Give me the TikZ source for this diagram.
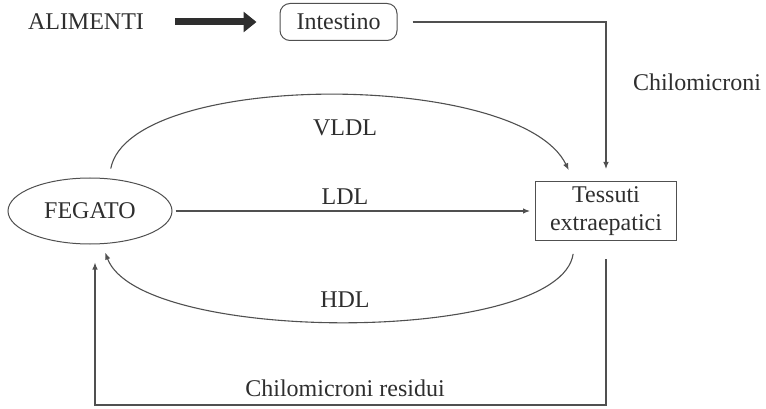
\documentclass[tikz,border=0pt]{standalone}
\usepackage{fontspec}
\setmainfont{Liberation Serif}
\usetikzlibrary{arrows.meta,shapes.geometric}
\definecolor{inchiostro}{HTML}{2E2E2E}
\definecolor{tratto}{HTML}{505050}

\begin{document}
\begin{tikzpicture}[x=1pt,y=-1pt,
  every node/.style={text=inchiostro,font=\fontsize{24}{28}\selectfont},
  freccia/.style={draw=tratto,line width=1.1pt,-{Latex[length=7pt,width=5.5pt]}}]
\useasboundingbox (0,0) rectangle (766,409);
\tikzstyle{every node}+=[inner sep=0pt]
\node (alimenti) at (86,22) {ALIMENTI};
\node [draw=tratto,line width=1pt,rounded corners=10pt,minimum width=117pt,minimum height=37pt] (intestino) at (338.5,22) {Intestino};
\node [draw=tratto,line width=1pt,ellipse,minimum width=164pt,minimum height=66pt] (fegato) at (90,211) {FEGATO};
\node [draw=tratto,line width=1pt,minimum width=141pt,minimum height=59pt,align=center] (tessuti) at (606,211) {Tessuti\\extraepatici};
% freccia grossa verso l'intestino
\draw [draw=inchiostro,line width=7pt,-{Triangle[length=13pt,width=20pt]}] (175,22) -- ([xshift=-23pt]intestino.west);
% chilomicroni
\draw [freccia,shorten <=15pt,shorten >=12pt] (intestino.east) -| (tessuti.north);
\node (chilo) at (697,82) {Chilomicroni};
% VLDL, LDL, HDL
\draw [freccia,shorten <=10pt,shorten >=12pt] (fegato.60) .. controls (130,70) and (520,70) .. ([xshift=-32pt]tessuti.north);
\node (vldl) at (345,128) {VLDL};
\draw [freccia,shorten <=3pt,shorten >=5pt] (fegato.east) -- (tessuti.west);
\node (ldl) at (345,197) {LDL};
\draw [freccia,shorten <=13pt,shorten >=9pt] ([xshift=-31pt]tessuti.south) .. controls (560,345) and (140,345) .. (fegato.-70);
\node (hdl) at (345,300) {HDL};
% chilomicroni residui
\coordinate (giro) at (95,405);
\draw [freccia,shorten <=18pt] (tessuti.south) |- (giro) -- ([xshift=5pt,yshift=-18pt]fegato.south);
\node (residui) at (345,388) {Chilomicroni residui};
\end{tikzpicture}
\end{document}
